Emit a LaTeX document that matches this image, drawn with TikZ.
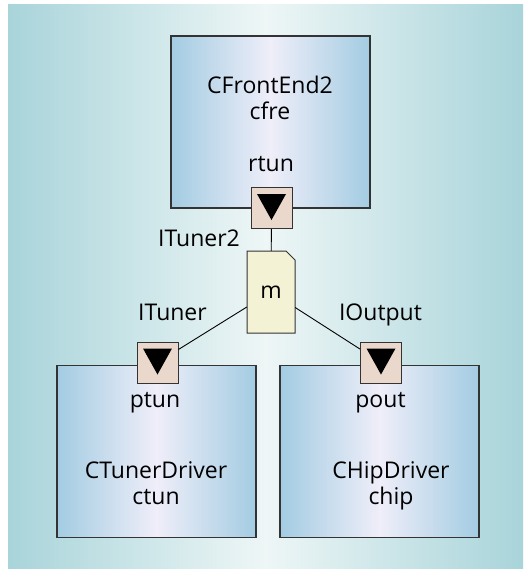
\documentclass[tikz,border=0pt]{standalone}
\usepackage{fontspec}
\setmainfont{Open Sans}

\definecolor{bgedge}{RGB}{168,212,218}
\definecolor{bgmid}{RGB}{238,246,246}
\definecolor{compedge}{RGB}{163,204,226}
\definecolor{compmid}{RGB}{239,238,249}
\definecolor{portfill}{RGB}{234,216,204}
\definecolor{notefill}{RGB}{243,242,212}

\tikzset{
  comp/.style={draw=black!80, line width=1.2pt, left color=compedge, right color=compedge,
    middle color=compmid, minimum width=199pt, minimum height=172pt, inner sep=0pt},
  port/.style={draw=black!80, line width=1pt, fill=portfill, minimum size=41pt, inner sep=0pt},
  note/.style={minimum width=48pt, minimum height=82pt, inner sep=0pt},
  notebody/.style={draw=black!80, line width=1pt, fill=notefill},
  conn/.style={line width=0.9pt},
  txt/.style={inner sep=0pt, anchor=base}
}

\begin{document}
\begin{tikzpicture}[x=1pt, y=-1pt, font=\fontsize{23}{27}\selectfont]
\useasboundingbox (0,0) rectangle (532,571);
\shade[left color=bgedge, right color=bgedge, middle color=bgmid] (8,4) rectangle (523,568);

% components
\node[comp] (cfre) at (270.5,122) {};
\node[comp] (ctun) at (156.5,451.5) {};
\node[comp] (chip) at (379.5,451.5) {};

\node[txt] (cfrename) at (270,93) {CFrontEnd2};
\node[txt] (cfreinst) at (270,119.5) {cfre};
\node[txt] (ctunname) at (156,478) {CTunerDriver};
\node[txt] (ctuninst) at (156,504) {ctun};
\node[txt] (chipname) at (391,478) {CHipDriver};
\node[txt] (chipinst) at (391,504) {chip};

% mediator
\draw[notebody] (247,251) -- (286,251) -- (295,260) -- (295,333) -- (247,333) -- cycle;
\node[note] (m) at (271,292) {m};

% ports
\node[port] (rtun) at (271.5,208) {};
\node[port] (ptun) at (157.5,362.5) {};
\node[port] (pout) at (381,362.5) {};
\foreach \p in {rtun,ptun,pout}
  \fill ([xshift=-14.5pt,yshift=14pt]\p.center) -- ([xshift=14.5pt,yshift=14pt]\p.center)
    -- ([yshift=-12pt]\p.center) -- cycle;

% connectors
\draw[conn] (rtun) -- (m);
\draw[conn] (m) -- (ptun);
\draw[conn] (m) -- (pout);

\node[txt] (rtunlbl) at (271,171.5) {rtun};
\node[txt] (ptunlbl) at (155,407) {ptun};
\node[txt] (poutlbl) at (380.5,407) {pout};

% interfaces
\node[txt, anchor=base east] (ituner2) at (240,246.5) {ITuner2};
\node[txt] (ituner) at (172.5,320) {ITuner};
\node[txt] (ioutput) at (380.5,320) {IOutput};
\end{tikzpicture}
\end{document}
